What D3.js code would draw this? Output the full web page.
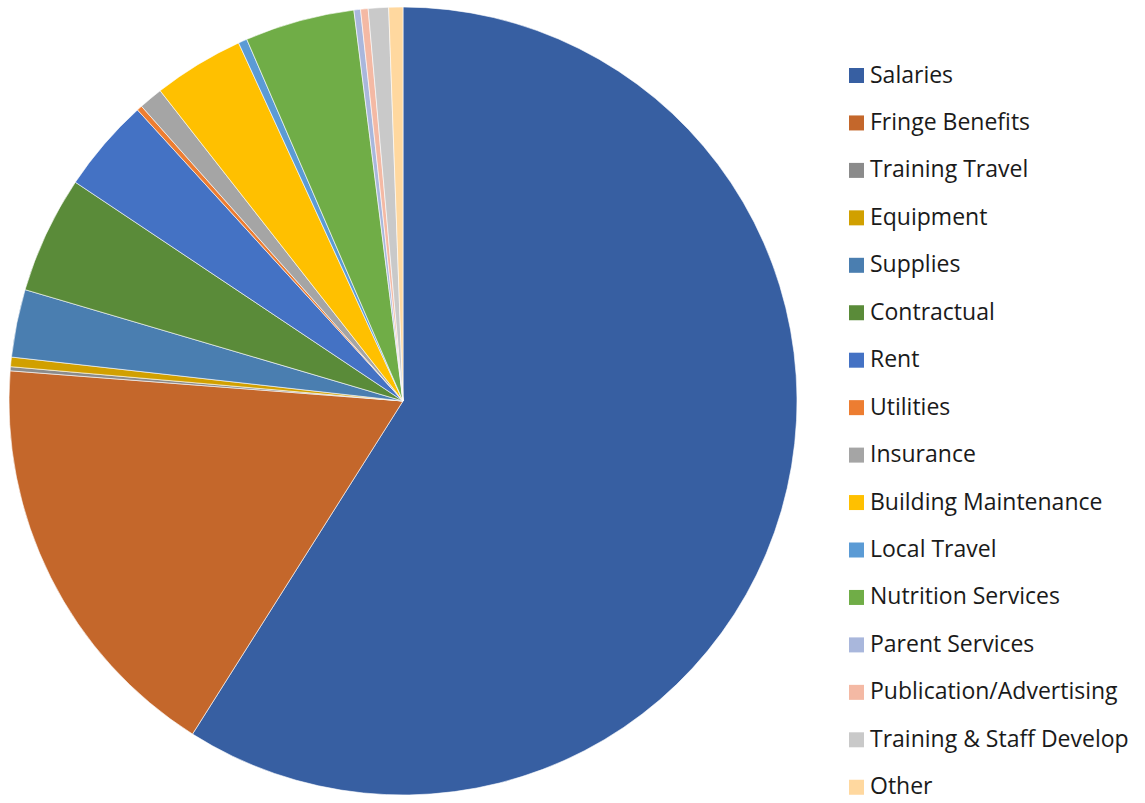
<!DOCTYPE html>
<html>
<head>
<meta charset="utf-8">
<script src="https://cdn.jsdelivr.net/npm/d3@7"></script>
<style>
  body { margin: 0; background: #fff; }
  svg { display: block; }
</style>
</head>
<body>
<div id="chart"></div>
<script>
const WIDTH = 1145;
const HEIGHT = 803;

// budget categories, in drawing order (clockwise from 12 o'clock)
const categories = [
  "Salaries", "Fringe Benefits", "Training Travel", "Equipment", "Supplies",
  "Contractual", "Rent", "Utilities", "Insurance", "Building Maintenance",
  "Local Travel", "Nutrition Services", "Parent Services",
  "Publication/Advertising", "Training & Staff Develop", "Other"
];
// share of total (%)
const shares = [
  58.97, 17.25, 0.17, 0.39, 2.78,
  4.81, 3.86, 0.22, 0.98, 3.72,
  0.36, 4.50, 0.27,
  0.31, 0.83, 0.58
];
const colors = [
  "#375fa2", "#c4672b", "#8b8b8b", "#d1a000", "#4a7eb0",
  "#5a8b39", "#4472c4", "#ed7d31", "#a5a5a5", "#ffc000",
  "#5b9bd5", "#70ad47", "#a9b7dc",
  "#f4b9a4", "#c9c9c9", "#ffd89f"
];

const data = categories.map((c, i) => ({ name: c, value: shares[i] }));

let svg = d3.select("#chart").append("svg")
    .attr("width", WIDTH)
    .attr("height", HEIGHT);

const cx = 403, cy = 401, radius = 394;

let color = d3.scaleOrdinal().domain(categories).range(colors);

let pie = d3.pie().sort(null).value(d => d.value);
let arc = d3.arc().innerRadius(0).outerRadius(radius);

let pieG = svg.append("g")
    .attr("transform", "translate(" + cx + "," + cy + ")");

pieG.selectAll("path")
    .data(pie(data))
  .enter().append("path")
    .attr("d", arc)
    .style("fill", d => color(d.data.name))
    .style("stroke", "#fff")
    .style("stroke-width", 0.6);

// legend
const legendX = 849, legendTop = 68, rowStep = 47.45, box = 15;
let legend = svg.append("g").attr("class", "legend");
let rows = legend.selectAll("g")
    .data(categories)
  .enter().append("g")
    .attr("transform", (d, i) => "translate(" + legendX + "," + (legendTop + i * rowStep) + ")");

rows.append("rect")
    .attr("width", box)
    .attr("height", box)
    .style("fill", d => color(d));

rows.append("text")
    .attr("x", 21)
    .attr("y", box - 0.5)
    .style("font-family", "'Open Sans', sans-serif")
    .style("font-size", "23px")
    .style("fill", "#1a1a1a")
    .text(d => d);
</script>
</body>
</html>
